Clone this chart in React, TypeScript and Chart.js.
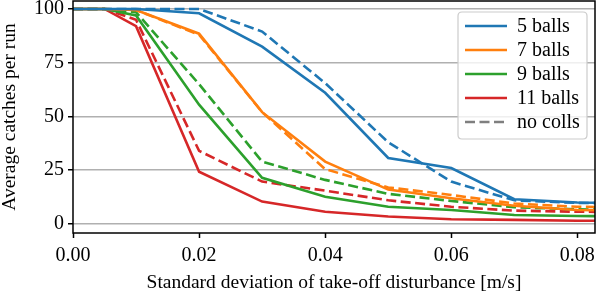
import React, { useEffect, useRef } from "react";
import { Chart, registerables } from "chart.js";

Chart.register(...registerables);

const xValues = [0, 0.005, 0.01, 0.02, 0.03, 0.04, 0.05, 0.06, 0.07, 0.08, 0.09];
const xTicks = [0, 0.02, 0.04, 0.06, 0.08];
const yTicks = [0, 25, 50, 75, 100];

const balls5 = [100, 100, 100, 98, 82.5, 61, 30.7, 26, 11.5, 10, 9.5];
const balls5NoColl = [100, 100, 100, 100, 89.5, 65.5, 38, 19.7, 11, 9.8, 9.5];
const balls7 = [100, 100, 99.5, 88.5, 52, 29, 16, 12, 8.5, 6.5, 6];
const balls7NoColl = [100, 100, 99.5, 88, 52, 25.5, 17, 13.5, 9.5, 8, 7.5];
const balls9 = [100, 100, 97, 55.5, 21.5, 12.7, 8, 6.5, 4.2, 3.7, 3.5];
const balls9NoColl = [100, 100, 98.5, 65, 29, 20.5, 14, 10.7, 7.8, 6.8, 6.5];
const balls11 = [100, 100, 92, 24.3, 10.4, 5.7, 3.5, 2.2, 1.9, 1.5, 1.4];
const balls11NoColl = [100, 100, 95, 34, 19.7, 15.5, 11, 8, 6.2, 5.7, 5.5];

const legendLabels = ["5 balls", "7 balls", "9 balls", "11 balls", "no colls"];
const colors = ["#1f77b4", "#ff7f0e", "#2ca02c", "#d62728", "#7f7f7f"];

const FONT = "'Liberation Serif', 'DejaVu Serif', serif";
const FS = 20;
const DASH = [10, 4.5];
const LW = 2.6;

const toPts = (ys: number[]) => ys.map((y, i) => ({ x: xValues[i], y }));

const framePlugin = {
  id: "frameAndLegend",
  afterDatasetsDraw(chart: any) {
    const { ctx, chartArea } = chart;
    const { left, right, top, bottom } = chartArea;
    ctx.save();
    ctx.strokeStyle = "#000";
    ctx.lineWidth = 1.5;
    ctx.strokeRect(left, top, right - left, bottom - top);

    // legend
    const bw = 129;
    const bh = 127;
    const bx = right - 8 - bw;
    const by = top + 11;
    const r = 4;
    ctx.beginPath();
    ctx.moveTo(bx + r, by);
    ctx.lineTo(bx + bw - r, by);
    ctx.quadraticCurveTo(bx + bw, by, bx + bw, by + r);
    ctx.lineTo(bx + bw, by + bh - r);
    ctx.quadraticCurveTo(bx + bw, by + bh, bx + bw - r, by + bh);
    ctx.lineTo(bx + r, by + bh);
    ctx.quadraticCurveTo(bx, by + bh, bx, by + bh - r);
    ctx.lineTo(bx, by + r);
    ctx.quadraticCurveTo(bx, by, bx + r, by);
    ctx.closePath();
    ctx.fillStyle = "rgba(255,255,255,0.8)";
    ctx.fill();
    ctx.strokeStyle = "#cccccc";
    ctx.lineWidth = 1.2;
    ctx.stroke();

    ctx.font = `${FS}px ${FONT}`;
    ctx.textBaseline = "middle";
    ctx.textAlign = "left";
    legendLabels.forEach((label, i) => {
      const cy = by + 14 + i * 24;
      ctx.beginPath();
      ctx.strokeStyle = colors[i];
      ctx.lineWidth = LW;
      ctx.setLineDash(i === 4 ? DASH : []);
      ctx.moveTo(bx + 7, cy);
      ctx.lineTo(bx + 49, cy);
      ctx.stroke();
      ctx.setLineDash([]);
      ctx.fillStyle = "#000";
      ctx.fillText(label, bx + 59, cy + 1);
    });
    ctx.restore();
  },
};

export default function App() {
  const ref = useRef<HTMLCanvasElement | null>(null);

  useEffect(() => {
    document.body.style.margin = "0";
    if (!ref.current) return;
    const series = [
      { d: balls5, c: colors[0], dash: false },
      { d: balls5NoColl, c: colors[0], dash: true },
      { d: balls7, c: colors[1], dash: false },
      { d: balls7NoColl, c: colors[1], dash: true },
      { d: balls9, c: colors[2], dash: false },
      { d: balls9NoColl, c: colors[2], dash: true },
      { d: balls11, c: colors[3], dash: false },
      { d: balls11NoColl, c: colors[3], dash: true },
    ];
    const chart = new Chart(ref.current, {
      type: "line",
      data: {
        datasets: series.map((s) => ({
          data: toPts(s.d),
          borderColor: s.c,
          borderWidth: LW,
          borderDash: s.dash ? DASH : [],
          pointRadius: 0,
          tension: 0,
          fill: false,
        })),
      },
      options: {
        animation: false,
        responsive: false,
        maintainAspectRatio: false,
        layout: { padding: { top: 1, right: 3, left: 0, bottom: 0 } },
        plugins: { legend: { display: false }, tooltip: { enabled: false } },
        scales: {
          x: {
            type: "linear",
            min: 0,
            max: 0.0828,
            afterBuildTicks: (scale: any) => {
              scale.ticks = xTicks.map((v) => ({ value: v }));
            },
            afterFit: (scale: any) => {
              scale.height = 66;
              scale.paddingLeft = 0;
              scale.paddingRight = 0;
            },
            ticks: {
              color: "#000",
              font: { family: FONT, size: FS },
              padding: 6,
              maxRotation: 0,
              autoSkip: false,
              callback: (v: any) => Number(v).toFixed(2),
            },
            grid: {
              drawOnChartArea: false,
              drawTicks: true,
              tickLength: 5,
              tickColor: "#000",
              tickWidth: 1.5,
            },
            border: { display: false },
            title: {
              display: true,
              text: "Standard deviation of take-off disturbance [m/s]",
              color: "#000",
              font: { family: FONT, size: 19.5, lineHeight: 1.2 },
              padding: { top: 0, bottom: 4 },
            },
          },
          y: {
            type: "linear",
            min: -4.2,
            max: 103.7,
            afterBuildTicks: (scale: any) => {
              scale.ticks = yTicks.map((v) => ({ value: v }));
            },
            afterFit: (scale: any) => {
              scale.width = 73;
              scale.paddingTop = 0;
              scale.paddingBottom = 0;
            },
            ticks: {
              color: "#000",
              font: { family: FONT, size: FS },
              padding: 4,
              autoSkip: false,
            },
            grid: {
              color: "#b0b0b0",
              lineWidth: 1.5,
              drawTicks: true,
              tickLength: 5,
              tickColor: "#000",
              tickWidth: 1.5,
            },
            border: { display: false },
            title: {
              display: true,
              text: "Average catches per run",
              color: "#000",
              font: { family: FONT, size: 19.5, lineHeight: 1.0 },
              padding: { top: 0, bottom: 0 },
            },
          },
        },
      },
      plugins: [framePlugin],
    } as any);
    return () => chart.destroy();
  }, []);

  return (
    <div style={{ position: "fixed", left: 0, top: 0, width: 598, height: 299, background: "#fff" }}>
      <canvas ref={ref} width={598} height={299} style={{ display: "block" }} />
    </div>
  );
}
